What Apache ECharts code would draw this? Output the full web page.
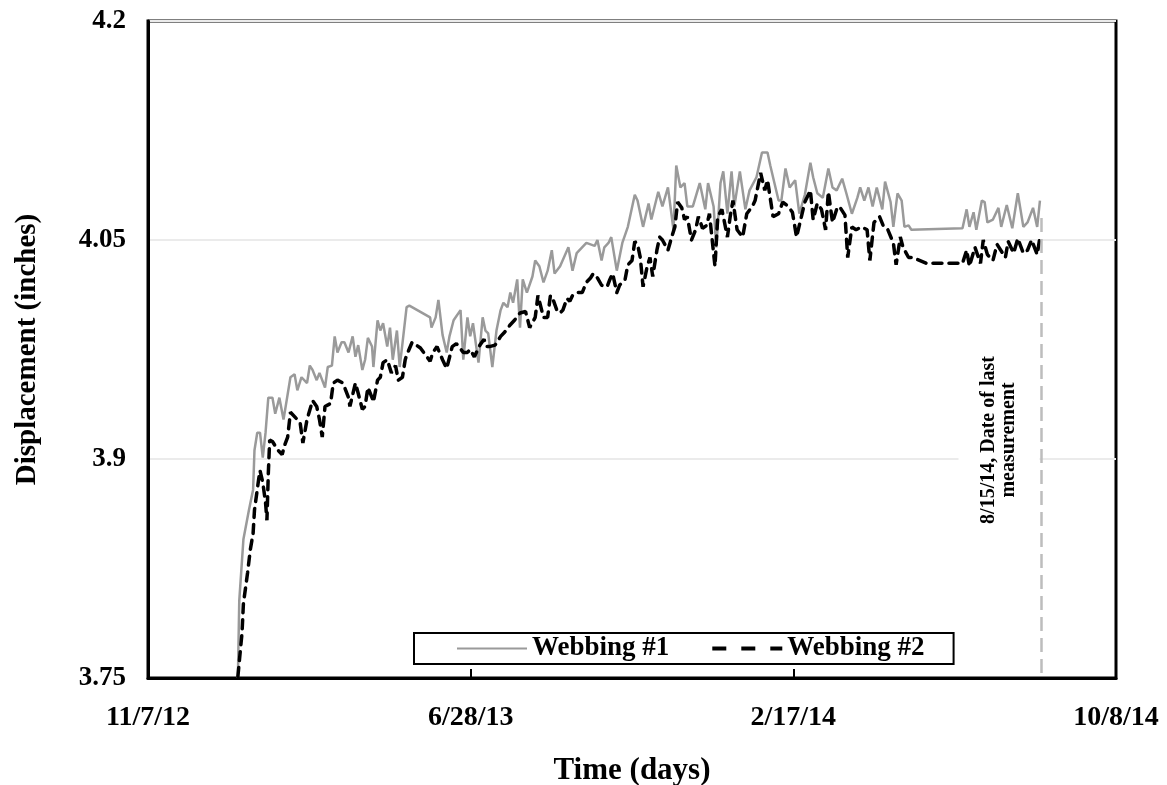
<!DOCTYPE html>
<html>
<head>
<meta charset="utf-8">
<script src="https://cdn.jsdelivr.net/npm/echarts@6/dist/echarts.min.js"></script>
<style>
  html, body { margin: 0; padding: 0; background: #fff; }
  #chart { width: 1167px; height: 785px; }
</style>
</head>
<body>
<div id="chart"></div>
<script>
// Days counted from 11/7/12; values are displacement in inches.
const xTickLabels = ['11/7/12', '6/28/13', '2/17/14', '10/8/14'];
const xSpan = 700;          // 11/7/12 -> 10/8/14
const lastMeasurementDay = 646; // 8/15/14

const w1Day = [65,66,69,73,76,77,79,81,83,85,87,90,92,95,98,103,106,108,111,115,117,119,122,124,128,130,133,135,137,140,142,145,148,150,152,155,157,159,162,163,166,168,170,173,175,177,180,182,184,187,189,204,205,208,210,213,216,218,221,226,228,231,233,235,239,242,244,246,249,252,255,257,260,262,264,267,269,271,274,278,280,283,286,289,292,294,298,304,307,310,317,323,325,328,330,333,335,339,343,347,352,354,358,362,364,369,372,376,380,382,385,388,390,394,399,403,405,409,411,414,416,419,422,424,428,432,435,440,444,448,450,452,456,458,461,464,468,471,475,479,481,484,488,492,495,498,502,505,509,513,515,518,521,524,527,531,533,537,539,542,545,547,550,552,553,589,592,594,597,599,603,605,607,611,615,617,621,625,629,633,636,640,643,645];
const w1Val = [3.750,3.803,3.845,3.865,3.879,3.906,3.918,3.918,3.901,3.918,3.942,3.942,3.931,3.942,3.927,3.956,3.958,3.947,3.956,3.952,3.964,3.961,3.954,3.959,3.949,3.963,3.964,3.984,3.973,3.980,3.980,3.973,3.984,3.970,3.978,3.961,3.968,3.983,3.977,3.963,3.995,3.988,3.993,3.977,3.990,3.968,3.988,3.963,3.979,4.004,4.005,3.997,3.990,3.997,4.009,3.985,3.973,3.984,3.995,4.002,3.968,3.997,3.984,3.993,3.966,3.997,3.988,3.986,3.963,3.988,4.002,4.007,4.004,4.014,4.007,4.023,3.990,4.023,4.014,4.025,4.036,4.032,4.021,4.029,4.043,4.027,4.032,4.045,4.029,4.041,4.048,4.046,4.050,4.036,4.045,4.048,4.052,4.029,4.048,4.059,4.081,4.077,4.059,4.075,4.064,4.083,4.073,4.086,4.057,4.101,4.086,4.089,4.073,4.073,4.089,4.071,4.089,4.073,4.045,4.089,4.097,4.068,4.097,4.073,4.097,4.071,4.084,4.093,4.110,4.110,4.101,4.093,4.077,4.077,4.099,4.086,4.091,4.068,4.081,4.103,4.093,4.082,4.079,4.099,4.086,4.084,4.092,4.082,4.068,4.079,4.086,4.077,4.086,4.073,4.086,4.071,4.090,4.076,4.059,4.082,4.077,4.059,4.060,4.057,4.058,4.058,4.071,4.059,4.069,4.057,4.077,4.076,4.062,4.064,4.072,4.059,4.074,4.058,4.082,4.059,4.062,4.072,4.059,4.077];

const w2Day = [65,68,69,72,74,76,77,80,81,83,85,86,87,88,90,94,97,99,101,103,107,110,112,115,119,122,124,126,128,132,134,137,141,145,146,150,152,155,157,159,162,163,166,168,170,173,176,179,181,184,186,187,191,197,204,206,209,213,216,220,223,228,231,233,236,240,243,245,247,251,255,258,262,265,269,273,276,280,282,286,289,291,293,296,298,300,303,305,307,310,314,317,320,322,325,328,332,334,336,339,341,345,347,350,352,354,356,358,361,363,365,368,370,372,376,379,381,383,386,388,390,393,396,398,401,404,406,410,412,415,419,421,423,426,430,433,437,439,443,446,448,452,456,459,463,466,469,471,475,479,481,484,487,490,492,495,498,500,504,506,509,512,516,520,522,525,529,532,535,539,541,544,546,550,553,563,573,584,589,592,594,598,602,604,607,611,614,618,620,622,626,629,633,636,639,643,645];
const w2Val = [3.751,3.781,3.801,3.822,3.838,3.849,3.865,3.886,3.892,3.884,3.870,3.858,3.890,3.913,3.912,3.906,3.903,3.910,3.915,3.932,3.928,3.925,3.911,3.927,3.940,3.936,3.927,3.915,3.936,3.938,3.952,3.954,3.952,3.942,3.936,3.952,3.945,3.934,3.936,3.949,3.942,3.939,3.954,3.956,3.966,3.968,3.959,3.964,3.954,3.956,3.968,3.971,3.980,3.976,3.967,3.973,3.977,3.968,3.962,3.977,3.979,3.973,3.973,3.975,3.970,3.978,3.982,3.977,3.977,3.978,3.984,3.987,3.992,3.995,4.000,4.001,3.990,3.997,4.012,3.997,3.997,4.012,4.009,4.001,4.000,4.002,4.010,4.008,4.012,4.014,4.014,4.021,4.024,4.027,4.024,4.019,4.018,4.023,4.027,4.014,4.019,4.023,4.033,4.036,4.049,4.047,4.038,4.018,4.032,4.038,4.025,4.043,4.052,4.050,4.043,4.053,4.059,4.076,4.072,4.064,4.066,4.050,4.057,4.066,4.058,4.060,4.068,4.032,4.066,4.071,4.052,4.066,4.077,4.057,4.052,4.068,4.073,4.077,4.096,4.084,4.091,4.066,4.068,4.076,4.073,4.069,4.052,4.060,4.076,4.084,4.064,4.075,4.071,4.057,4.083,4.062,4.071,4.073,4.067,4.038,4.059,4.057,4.059,4.057,4.036,4.062,4.066,4.059,4.057,4.048,4.033,4.052,4.045,4.038,4.038,4.034,4.034,4.034,4.034,4.043,4.032,4.045,4.034,4.050,4.040,4.036,4.047,4.041,4.038,4.049,4.041,4.051,4.041,4.043,4.050,4.040,4.052];

const zip = (xs, ys) => xs.map((x, i) => [x, ys[i]]);
const serif = "'Liberation Serif', 'Times New Roman', serif";

const chart = echarts.init(document.getElementById('chart'), null, { renderer: 'canvas' });

chart.setOption({
  backgroundColor: '#fff',
  animation: false,
  grid: {
    left: 148, right: 51, top: 21, bottom: 107,
    outerBoundsMode: 'none',
    containLabel: false,
    show: true, borderColor: '#000', borderWidth: 3, backgroundColor: 'transparent'
  },
  xAxis: {
    type: 'value',
    min: 0, max: xSpan, interval: xSpan / 3,
    name: 'Time (days)',
    nameLocation: 'middle',
    nameGap: 77,
    nameTextStyle: { fontFamily: serif, fontWeight: 'bold', fontSize: 31, color: '#000' },
    axisLine: { show: true, lineStyle: { color: '#000', width: 3 } },
    axisTick: { show: true, inside: true, length: 9, lineStyle: { color: '#000', width: 2 } },
    splitLine: { show: false },
    axisLabel: {
      margin: 26,
      fontFamily: serif, fontWeight: 'bold', fontSize: 28, color: '#000',
      formatter: v => xTickLabels[Math.round(v / (xSpan / 3))]
    }
  },
  yAxis: {
    type: 'value',
    min: 3.75, max: 4.2, interval: 0.15,
    name: 'Displacement (inches)',
    nameLocation: 'middle',
    nameGap: 106,
    nameRotate: 90,
    nameTextStyle: { fontFamily: serif, fontWeight: 'bold', fontSize: 29, color: '#000' },
    axisLine: { show: true, lineStyle: { color: '#000', width: 3 } },
    axisTick: { show: false },
    splitLine: { show: true, lineStyle: { color: '#ebebeb', width: 2 } },
    axisLabel: {
      margin: 22,
      fontFamily: serif, fontWeight: 'bold', fontSize: 27, color: '#000',
      formatter: v => String(Math.round(v * 100) / 100)
    }
  },
  legend: {
    left: 414, top: 633,
    orient: 'horizontal',
    backgroundColor: '#fff',
    borderColor: '#000', borderWidth: 2,
    padding: [2, 29, 2, 42],
    itemWidth: 70, itemHeight: 14, itemGap: 41,
    itemStyle: { color: 'rgba(0,0,0,0)', borderColor: 'rgba(0,0,0,0)', borderWidth: 0 },
    textStyle: { fontFamily: serif, fontWeight: 'bold', fontSize: 27, color: '#000' },
    data: [
      { name: 'Webbing #1' },
      { name: 'Webbing #2', lineStyle: { type: [14, 15], width: 4, cap: 'butt' } }
    ]
  },
  series: [
    {
      name: 'Webbing #1',
      type: 'line',
      data: zip(w1Day, w1Val),
      showSymbol: false, symbol: 'none',
      lineStyle: { color: '#9a9a9a', width: 2.5 },
      itemStyle: { color: '#9a9a9a' },
      z: 2
    },
    {
      name: 'Webbing #2',
      type: 'line',
      data: zip(w2Day, w2Val),
      showSymbol: false, symbol: 'none',
      lineStyle: { color: '#000', width: 3.5, type: [9, 7], cap: 'round' },
      itemStyle: { color: '#000' },
      z: 3,
      markLine: {
        silent: true,
        symbol: 'none',
        label: { show: false },
        lineStyle: { color: '#bdbdbd', width: 2.5, type: [14, 7] },
        data: [[{ coord: [lastMeasurementDay, 4.065] }, { coord: [lastMeasurementDay, 3.75] }]]
      }
    }
  ],
  graphic: [
    {
      type: 'text',
      x: 999, y: 440,
      rotation: Math.PI / 2,
      z: 10,
      style: {
        text: '8/15/14, Date of last\nmeasurement',
        font: 'bold 20px ' + serif,
        fill: '#000',
        align: 'center',
        verticalAlign: 'middle',
        lineHeight: 20,
        backgroundColor: '#fff',
        padding: [29, 4, 12, 4]
      }
    }
  ]
});
</script>
</body>
</html>
